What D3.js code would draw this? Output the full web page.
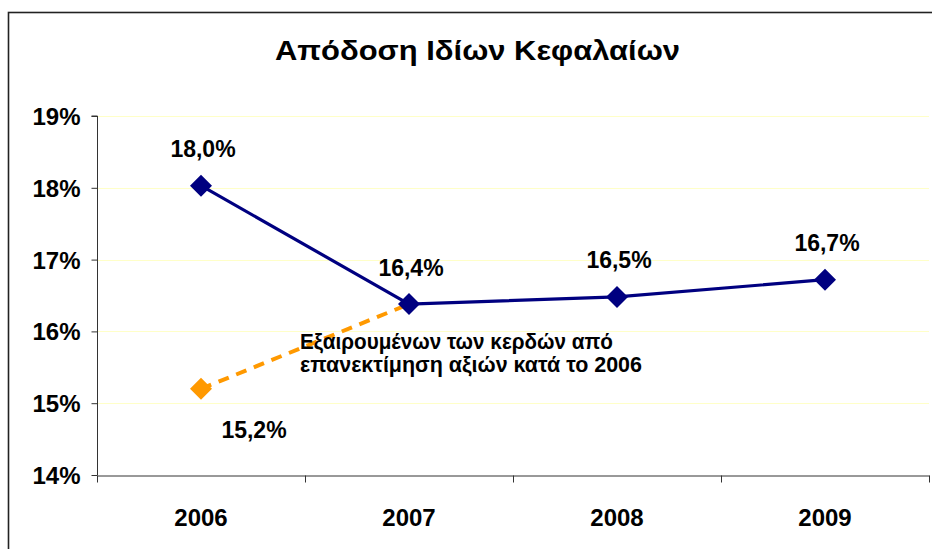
<!DOCTYPE html>
<html>
<head>
<meta charset="utf-8">
<script src="https://cdn.jsdelivr.net/npm/d3@7"></script>
<style>
  html, body { margin: 0; padding: 0; background: #fff; }
  svg { display: block; font-family: "Liberation Sans", Arial, sans-serif; }
</style>
</head>
<body>
<svg id="chart" width="932" height="549"></svg>
<script>
// ---- data ----
const title = "Απόδοση Ιδίων Κεφαλαίων";
const years = ["2006", "2007", "2008", "2009"];
const roeValues = [18.03, 16.38, 16.48, 16.72];
const roeLabels = ["18,0%", "16,4%", "16,5%", "16,7%"];
const adjYears = ["2006", "2007"];
const adjValues = [15.2, 16.38];
const adjLabels = ["15,2%"];
const yTicks = [14, 15, 16, 17, 18, 19];
const yTickLabels = ["14%", "15%", "16%", "17%", "18%", "19%"];
const noteLines = ["Εξαιρουμένων των κερδών από", "επανεκτίμηση αξιών κατά το 2006"];

(function () {
// ---- layout ----
const svg = d3.select("#chart");
const pLeft = 97, pRight = 929, pTop = 116, pBottom = 475;
const noteWidths = [313, 342];

const x = d3.scaleBand().domain(years).range([pLeft, pRight]).padding(0);
const cx = d => x(d) + x.bandwidth() / 2;
const y = d3.scaleLinear().domain([14, 19]).range([pBottom, pTop]);

// chart frame (clipped by the window on the right/bottom)
svg.append("rect")
  .attr("x", 8.5).attr("y", 12.5).attr("width", 1000).attr("height", 1000)
  .attr("fill", "none").attr("stroke", "#222").attr("stroke-width", 1.6);

// title
svg.append("text")
  .attr("x", 275).attr("y", 59.5)
  .attr("font-size", 28).attr("font-weight", "bold")
  .attr("textLength", 405).attr("lengthAdjust", "spacingAndGlyphs")
  .text(title);

// gridlines
svg.append("g").selectAll("line")
  .data(yTicks.filter(t => t > 14))
  .join("line")
  .attr("x1", pLeft).attr("x2", pRight)
  .attr("y1", d => Math.round(y(d)) + 0.5).attr("y2", d => Math.round(y(d)) + 0.5)
  .attr("stroke", "#FFFFC8").attr("stroke-width", 1.2);

// y axis
const yAxis = d3.axisLeft(y)
  .tickValues(yTicks)
  .tickFormat((d, i) => yTickLabels[i])
  .tickSize(6).tickPadding(11);
const gy = svg.append("g").attr("transform", `translate(${pLeft + 0.5},0)`).call(yAxis);
gy.select(".domain").attr("stroke", "#333").attr("d", `M-6,${y(19)}H0V${y(14)}`);
gy.selectAll(".tick line").attr("stroke", "#333");
gy.selectAll(".tick text")
  .attr("font-size", 24).attr("font-weight", "bold").attr("fill", "#000")
  .attr("font-family", "'Liberation Sans', Arial, sans-serif")
  .attr("dy", "0.35em");

// x axis
const xAxis = d3.axisBottom(x).tickSize(0).tickPadding(33);
const gx = svg.append("g").attr("transform", `translate(0,${pBottom + 0.5})`).call(xAxis);
gx.select(".domain").attr("stroke", "#333");
gx.selectAll(".tick text")
  .attr("font-size", 24).attr("font-weight", "bold").attr("fill", "#000")
  .attr("font-family", "'Liberation Sans', Arial, sans-serif");
// boundary tick marks
const bounds = years.map(d => x(d)).concat([x.range()[1]]);
gx.append("g").selectAll("line")
  .data(bounds)
  .join("line")
  .attr("x1", d => d + 0.5).attr("x2", d => d + 0.5)
  .attr("y1", 0).attr("y2", 7)
  .attr("stroke", "#333");

// diamond marker path
const diamond = (r) => `M0,${-r}L${r},0L0,${r}L${-r},0Z`;

// adjusted (orange dashed) series
const adjData = adjYears.map((d, i) => ({ year: d, v: adjValues[i] }));
svg.append("path")
  .datum(adjData)
  .attr("fill", "none")
  .attr("stroke", "#FF9900")
  .attr("stroke-width", 4)
  .attr("stroke-dasharray", "11,8")
  .attr("d", d3.line().x(d => cx(d.year)).y(d => y(d.v)));
svg.append("path")
  .attr("d", diamond(11))
  .attr("transform", `translate(${cx(adjData[0].year)},${y(adjData[0].v)})`)
  .attr("fill", "#FF9900");

// main ROE series
const roeData = years.map((d, i) => ({ year: d, v: roeValues[i], label: roeLabels[i] }));
svg.append("path")
  .datum(roeData)
  .attr("fill", "none")
  .attr("stroke", "#000080")
  .attr("stroke-width", 3.2)
  .attr("d", d3.line().x(d => cx(d.year)).y(d => y(d.v)));
svg.append("g").selectAll("path")
  .data(roeData)
  .join("path")
  .attr("d", diamond(11))
  .attr("transform", d => `translate(${cx(d.year)},${y(d.v)})`)
  .attr("fill", "#000080");

// data labels
svg.append("g").selectAll("text")
  .data(roeData)
  .join("text")
  .attr("x", d => cx(d.year) + 2)
  .attr("y", d => y(d.v) - 28.5)
  .attr("text-anchor", "middle")
  .attr("font-size", 23).attr("font-weight", "bold")
  .text(d => d.label);

svg.append("text")
  .attr("x", cx(adjData[0].year) + 53)
  .attr("y", y(adjData[0].v) + 49.5)
  .attr("text-anchor", "middle")
  .attr("font-size", 23).attr("font-weight", "bold")
  .text(adjLabels[0]);

// annotation
svg.append("g").selectAll("text")
  .data(noteLines)
  .join("text")
  .attr("x", 300)
  .attr("y", (d, i) => 348.5 + i * 23.8)
  .attr("font-size", 21.5).attr("font-weight", "bold")
  .attr("textLength", (d, i) => noteWidths[i]).attr("lengthAdjust", "spacingAndGlyphs")
  .text(d => d);
})();
</script>
</body>
</html>
